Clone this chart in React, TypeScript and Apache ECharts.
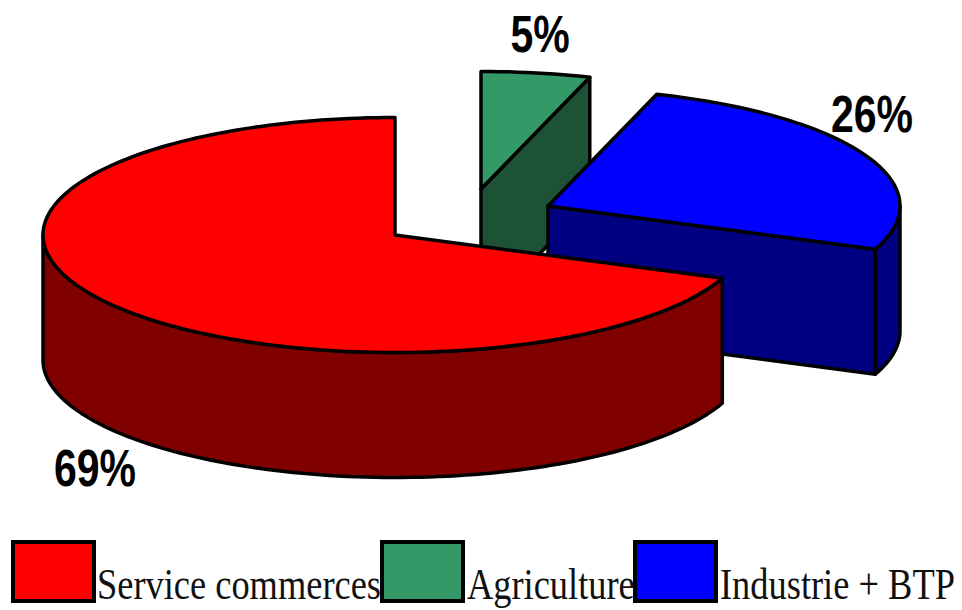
import React, { useEffect, useRef } from "react";
import * as echarts from "echarts";

// Shares in percent, in legend order
const categories = ["Service commerces", "Agriculture", "Industrie + BTP"];
const shares = [69, 5, 26];

// Slices are laid clockwise from twelve o'clock, back to front
const sliceOrder = [1, 2, 0];

const topColors = ["#ff0000", "#339966", "#0000ff"];
const sideColors = ["#800000", "#1e5237", "#000080"];

// Exploded centre of each slice and where its percentage sits
const centres = [
  [395, 235],
  [481, 189],
  [548, 206],
];
const labelAnchors = [
  [95, 468],
  [540, 34],
  [872, 114],
];
const legendSwatchX = [13, 382, 635];
const legendTextX = [97, 467, 720];

const RX = 352;
const RY = 117.5;
const DEPTH = 125;
const STRETCH_Y = 1.27; // the whole figure is taller than it is wide
const LEGEND_STRETCH_Y = 1.24;

const outline = { stroke: "#000", lineWidth: 3.5, lineJoin: "round" as const };

function rimPoint(c: number[], t: number, drop = 0) {
  return [c[0] + RX * Math.sin(t), c[1] - RY * Math.cos(t) + drop];
}

function arcPoints(c: number[], from: number, to: number, drop = 0) {
  const steps = Math.max(2, Math.ceil(((to - from) / Math.PI) * 120));
  const pts: number[][] = [];
  for (let i = 0; i <= steps; i++) {
    pts.push(rimPoint(c, from + ((to - from) * i) / steps, drop));
  }
  return pts;
}

function sliceAngles(slot: number) {
  const total = shares.reduce((a, b) => a + b, 0);
  let start = 0;
  for (let i = 0; i < slot; i++) start += shares[sliceOrder[i]];
  const t1 = (start / total) * 2 * Math.PI;
  const t2 = ((start + shares[sliceOrder[slot]]) / total) * 2 * Math.PI;
  return [t1, t2];
}

function renderSlice(params: any, api: any) {
  const slot = params.dataIndex;
  const idx = sliceOrder[slot];
  const c = centres[idx];
  const [t1, t2] = sliceAngles(slot);
  const value = api.value(0);
  const side = { fill: sideColors[idx], ...outline };
  const children: any[] = [];

  // Cut face on the clockwise end, visible on the right half
  if (Math.sin(t2) > 1e-6) {
    const p = rimPoint(c, t2);
    children.push({
      type: "polygon",
      shape: { points: [c, p, [p[0], p[1] + DEPTH], [c[0], c[1] + DEPTH]] },
      style: side,
    });
  }

  // Outer wall where the slice overlaps the front half of the ellipse
  const wallFrom = Math.max(t1, Math.PI / 2);
  const wallTo = Math.min(t2, (3 * Math.PI) / 2);
  if (wallTo > wallFrom) {
    children.push({
      type: "polygon",
      shape: {
        points: [
          ...arcPoints(c, wallFrom, wallTo),
          ...arcPoints(c, wallFrom, wallTo, DEPTH).reverse(),
        ],
      },
      style: side,
    });
  }

  // Top face
  children.push({
    type: "polygon",
    shape: { points: [c, ...arcPoints(c, t1, t2)] },
    style: { fill: topColors[idx], ...outline },
  });

  // Percentage
  const a = labelAnchors[idx];
  children.push({
    type: "text",
    x: a[0],
    y: a[1],
    scaleY: STRETCH_Y,
    z2: 10,
    style: {
      text: `${value}%`,
      fill: "#000",
      font: 'bold 41px "Liberation Sans", Arial, sans-serif',
      align: "center",
      verticalAlign: "middle",
    },
  });

  return { type: "group", children };
}

export default function App() {
  const ref = useRef<HTMLDivElement>(null);

  useEffect(() => {
    const chart = echarts.init(ref.current!, undefined, { renderer: "svg" });
    chart.setOption({
      animation: false,
      backgroundColor: "#fff",
      graphic: categories.flatMap((name, i) => [
        {
          type: "text",
          x: legendTextX[i],
          y: 584,
          scaleY: LEGEND_STRETCH_Y,
          z: 1,
          style: {
            text: name,
            fill: "#111",
            font: '36.4px "Liberation Serif", "Times New Roman", serif',
            align: "left",
            verticalAlign: "middle",
          },
        },
        {
          type: "rect",
          x: legendSwatchX[i],
          y: 542,
          z: 2,
          shape: { width: 81, height: 59 },
          style: { fill: topColors[i], stroke: "#000", lineWidth: 4 },
        },
      ]),
      series: [
        {
          type: "custom",
          coordinateSystem: "none",
          renderItem: renderSlice,
          clip: false,
          silent: true,
          data: sliceOrder.map((i) => ({ name: categories[i], value: shares[i] })),
        },
      ],
    });
    return () => chart.dispose();
  }, []);

  return (
    <div
      ref={ref}
      style={{ position: "fixed", left: 0, top: 0, width: 962, height: 610, background: "#fff" }}
    />
  );
}
